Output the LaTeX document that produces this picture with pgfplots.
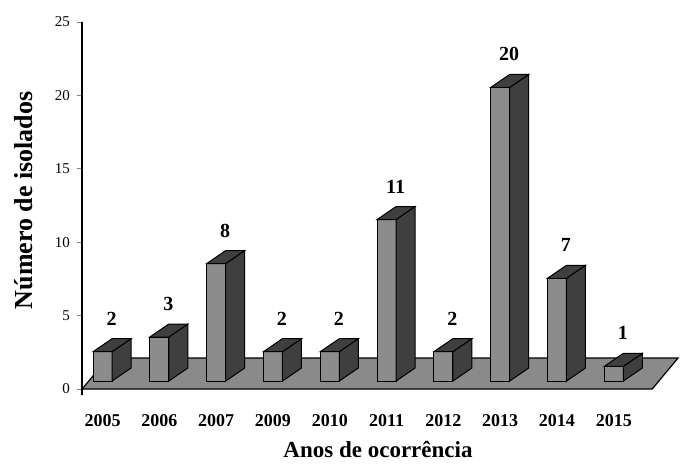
\documentclass[border=0pt]{standalone}
\usepackage{fontspec}
\setmainfont{Liberation Serif}
\usepackage{pgfplots}
\usepackage{pgfplotstable}
\pgfplotsset{compat=1.18}
\definecolor{barfront}{HTML}{8C8C8C}
\definecolor{bardark}{HTML}{3F3F3F}
\definecolor{floorgray}{HTML}{8A8A8A}
\pgfplotstableread{
i v
0 2
1 3
2 8
3 2
4 2
5 11
6 2
7 20
8 7
9 1
}\datatable
\begin{document}
\begin{tikzpicture}
\begin{axis}[
  x=28.4pt, y=7.34pt,
  xmin=-0.361, xmax=10.2,
  ymin=-0.4, ymax=25,
  clip=false,
  axis x line*=bottom, axis y line*=left,
  x axis line style={draw=none},
  y axis line style={line width=0.6pt},
  xtick={0,...,9},
  xticklabels={2005,2006,2007,2009,2010,2011,2012,2013,2014,2015},
  xtick style={draw=none},
  xticklabel style={anchor=base, yshift=-13.5pt, font=\bfseries\fontsize{9}{11}\selectfont},
  ytick={0,5,...,25},
  tick align=outside,
  major tick length=2.5pt,
  ytick style={line width=0.5pt},
  /pgf/number format/assume math mode=true,
  yticklabel style={font=\fontsize{7.5}{9}\selectfont},
  every axis y label/.style={at={(axis description cs:0,0.522)}, xshift=-29pt, rotate=90, anchor=center, font=\bfseries\fontsize{13}{15}\selectfont},
  ylabel={Número de isolados},
  every axis x label/.style={at={(axis cs:4.85,-0.4)}, anchor=base, yshift=-31.5pt, font=\bfseries\fontsize{11.5}{13}\selectfont},
  xlabel={Anos de ocorrência},
]
% invisible frame giving the picture its proportions
\path (axis cs:-1.805,-5.31) rectangle (axis cs:10.50,26.5);
% floor
\addplot[fill=floorgray, draw=black, line width=0.6pt, mark=none, forget plot]
  coordinates {(-0.361,0) (9.675,0) (10.13,2.11) (0.097,2.11)} -- cycle;
% 3D bars with value labels
\addplot[
  scatter, only marks, mark=text, text mark={},
  visualization depends on={rawy \as \rawv},
  scatter/@pre marker code/.code={%
    \pgfmathsetmacro\h{4-\rawv*7.34}%
    \filldraw[fill=barfront, draw=black, line width=0.5pt] (-4.75pt,\h pt) rectangle (4.75pt,4pt);
    \filldraw[fill=bardark, draw=black, line width=0.5pt] (4.75pt,\h pt) -- (4.75pt,4pt) -- (14.25pt,10.5pt) -- (14.25pt,\h pt+6.5pt) -- cycle;
    \filldraw[fill=bardark, draw=black, line width=0.5pt] (-4.75pt,4pt) -- (4.75pt,4pt) -- (14.25pt,10.5pt) -- (4.75pt,10.5pt) -- cycle;
    \node[anchor=center, font=\bfseries\fontsize{10}{12}\selectfont, text=black] at (4.5pt,20.5pt) {\pgfmathprintnumber{\rawv}};
    \begin{scope}
  },
  scatter/@post marker code/.code={\end{scope}},
] table[x=i, y=v] {\datatable};
\end{axis}
\end{tikzpicture}
\end{document}
